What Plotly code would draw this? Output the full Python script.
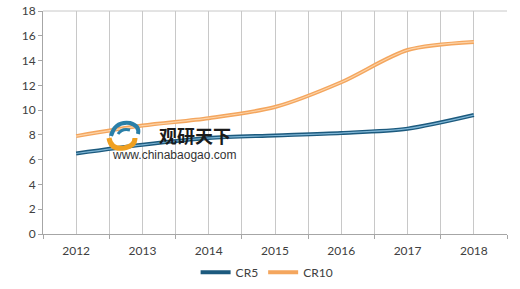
import plotly.graph_objects as go

years = ["2012", "2013", "2014", "2015", "2016", "2017", "2018"]
cr5 = [6.5, 7.2, 7.75, 7.95, 8.15, 8.5, 9.6]
cr10 = [7.9, 8.75, 9.35, 10.25, 12.25, 14.85, 15.5]
y_ticks = [0, 2, 4, 6, 8, 10, 12, 14, 16, 18]

x = list(range(len(years)))

fig = go.Figure()
series = [
    ("CR5", cr5, "#1c5a7e", "#7fb6d6"),
    ("CR10", cr10, "#f4a65e", "#fcd3a8"),
]
for name, vals, dark, light in series:
    fig.add_trace(go.Scatter(x=x, y=vals, name=name, mode="lines",
                             line=dict(color=dark, width=4, shape="spline", smoothing=0.8),
                             legendgroup=name, showlegend=True))
for name, vals, dark, light in series:
    fig.add_trace(go.Scatter(x=x, y=vals, name=name, mode="lines",
                             line=dict(color=light, width=1.2, shape="spline", smoothing=0.8),
                             legendgroup=name, showlegend=False, hoverinfo="skip"))

bounds = [i - 0.5 for i in range(len(years) + 1)]

fig.update_layout(
    width=520, height=289,
    margin=dict(l=43, r=13, t=11, b=55, autoexpand=False),
    paper_bgcolor="white", plot_bgcolor="white",
    font=dict(family="Lato, Open Sans, sans-serif", size=12, color="#404040"),
    showlegend=True,
    legend=dict(orientation="h", x=0.483, xanchor="center", yref="container",
                y=0.058, yanchor="middle",
                font=dict(size=12, color="#404040"), itemwidth=30,
                traceorder="normal"),
    xaxis=dict(range=[-0.5, len(years) - 0.5], tickvals=x, ticktext=years,
               showgrid=True, gridcolor="#c8c8c8", gridwidth=1,
               ticks="", showline=True, linecolor="#a6a6a6", linewidth=1,
               zeroline=False, ticklabelstandoff=6, automargin=False,
               minor=dict(tickvals=bounds, showgrid=True, gridcolor="#c8c8c8",
                          ticks="outside", ticklen=4, tickcolor="#a6a6a6"),
               tickfont=dict(size=12)),
    yaxis=dict(range=[0, 18], tickvals=y_ticks, showgrid=False,
               ticks="outside", ticklen=4, tickcolor="#a6a6a6",
               showline=True, linecolor="#a6a6a6", linewidth=1, automargin=False,
               zeroline=False, tickfont=dict(size=12)),
)

# top border of plot area
fig.add_shape(type="line", xref="paper", yref="paper", x0=0, x1=1, y0=1, y1=1,
              line=dict(color="#c8c8c8", width=1))


def px(xp, yp):
    return f"{(xp - 43) / 66.29 - 0.5:.4f},{(234 - yp) / 12.39:.4f}"


# watermark
fig.add_annotation(x=1.79, y=8.0, xref="x", yref="y", text="<b>观研天下</b>",
                   showarrow=False, font=dict(family="Noto Sans CJK SC", size=18, color="#1a1a1a"))
fig.add_annotation(x=1.48, y=6.35, xref="x", yref="y", text="www.chinabaogao.com",
                   showarrow=False, font=dict(family="Liberation Sans, Arial", size=12, color="#333333"))
# logo approximation
fig.add_shape(type="path", xref="x", yref="y",
              path=f"M {px(111,136)} Q {px(115,121)} {px(130,123)} Q {px(140,126)} {px(138,134)}",
              line=dict(color="#2a7fa8", width=4), layer="above")
fig.add_shape(type="path", xref="x", yref="y",
              path=f"M {px(118,134)} Q {px(122,128)} {px(130,130)}",
              line=dict(color="#2a7fa8", width=3), layer="above")
fig.add_shape(type="path", xref="x", yref="y",
              path=f"M {px(109,138)} Q {px(111,150)} {px(124,148)} Q {px(135,146)} {px(135,138)}",
              line=dict(color="#f0a020", width=5), layer="above")

fig.write_html("out.html")
